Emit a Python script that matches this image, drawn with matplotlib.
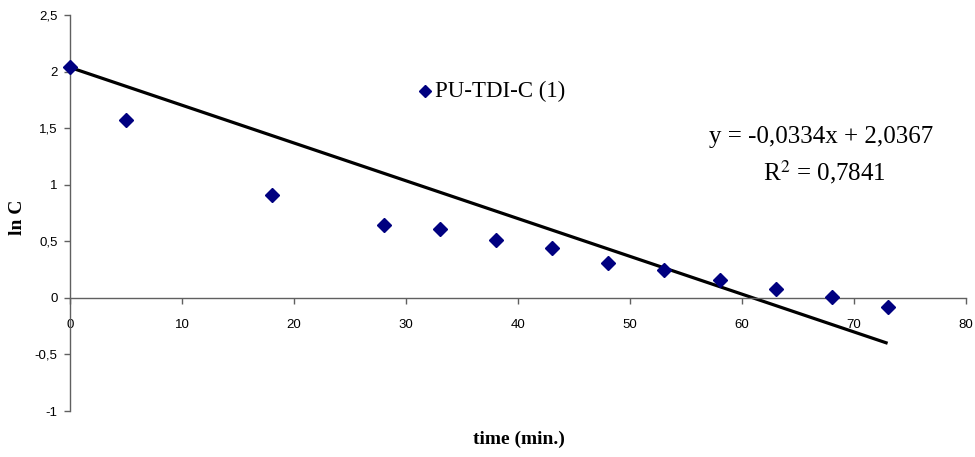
import matplotlib
matplotlib.use("Agg")
import matplotlib.pyplot as plt
from matplotlib.lines import Line2D
import numpy as np

time_min = [0, 5, 18, 28, 33, 38, 43, 48, 53, 58, 63, 68, 73]
ln_c = [2.04, 1.575, 0.91, 0.645, 0.61, 0.507, 0.44, 0.307, 0.242, 0.16, 0.077, 0.006, -0.077]
slope = -0.0334
intercept = 2.0367
r2 = 0.7841
series_name = "PU-TDI-C (1)"
yticks = [-1, -0.5, 0, 0.5, 1, 1.5, 2, 2.5]
xticks = [0, 10, 20, 30, 40, 50, 60, 70, 80]


def comma(v):
    return ("%g" % v).replace(".", ",")


fig = plt.figure(figsize=(9.75, 4.57), dpi=100)
ax = fig.add_axes([70/975, 1 - 411/457, (966-70)/975, (411-15)/457])

ax.plot(time_min, ln_c, linestyle="none", marker="D", markersize=7.5,
        color="#000080", zorder=3, clip_on=False)
xs = np.array([min(time_min), max(time_min)])
ax.plot(xs, slope*xs + intercept, color="black", linewidth=2.3, zorder=2,
        solid_capstyle="butt")

ax.set_xlim(0, 80)
ax.set_ylim(-1, 2.5)
ax.set_xticks(xticks)
ax.set_yticks(yticks)
ax.set_xticklabels([comma(v) for v in xticks])
ax.set_yticklabels([comma(v) for v in yticks])

axcol = "#606060"
ax.spines["top"].set_visible(False)
ax.spines["right"].set_visible(False)
ax.spines["bottom"].set_position(("data", 0))
for s in ("left", "bottom"):
    ax.spines[s].set_color(axcol)
    ax.spines[s].set_linewidth(1.0)
ax.tick_params(axis="both", colors=axcol, labelcolor="black", length=4,
               width=1.0, labelsize=9.5, direction="out")
ax.tick_params(axis="x", pad=11)
ax.tick_params(axis="y", pad=5)
for lab in ax.get_xticklabels() + ax.get_yticklabels():
    lab.set_family("Liberation Sans")

serif = "Liberation Serif"
fig.text(18/975, 1 - 217/457, "ln C", rotation=90, ha="center", va="center",
         family=serif, fontweight="bold", fontsize=14)
fig.text(519/975, 1 - 439/457, "time (min.)", ha="center", va="center",
         family=serif, fontweight="bold", fontsize=14)

# legend
fig.lines.append(Line2D([425/975], [1 - 91/457], marker="D",
                        markersize=6.5, color="#000080", linestyle="none",
                        transform=fig.transFigure))
fig.text(435/975, 1 - 91/457, series_name, ha="left", va="center",
         family=serif, fontsize=16.5)

fig.text(821/975, 1 - 137/457,
         "y = " + comma(slope) + "x + " + comma(intercept),
         ha="center", va="center", family=serif, fontsize=18)
fig.text(824/975, 1 - 172/457, "R$^{2}$ = " + comma(r2), ha="center", va="center",
         family=serif, fontsize=18, math_fontfamily="stix")

fig.savefig("out.png", dpi=100)
